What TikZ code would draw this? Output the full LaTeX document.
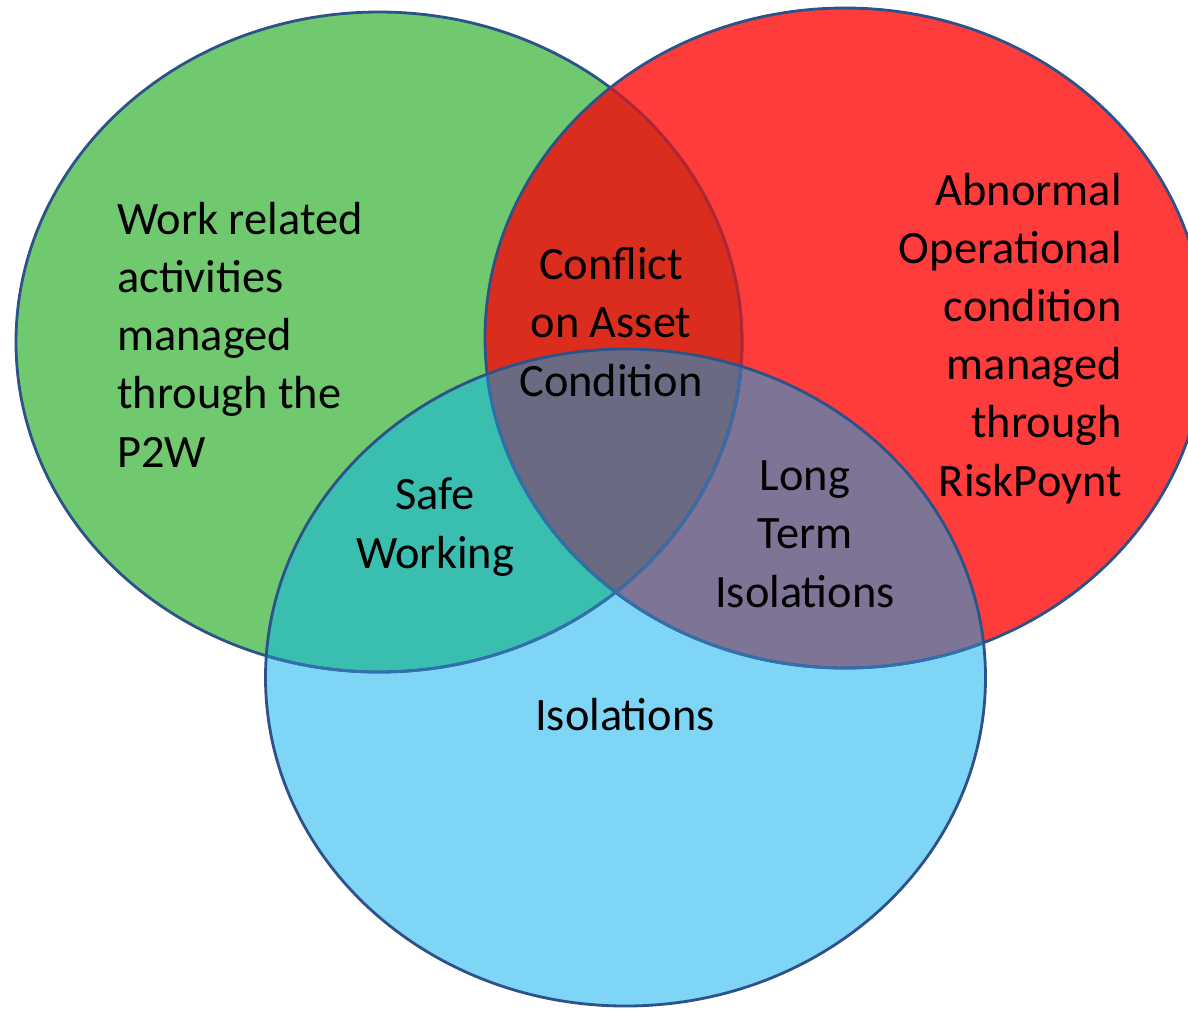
\documentclass[tikz,border=0pt]{standalone}
\usepackage{fontspec}
\setmainfont{Carlito}
\usetikzlibrary{positioning}

\definecolor{workgreen}{RGB}{112,201,110}
\definecolor{abnred}{RGB}{255,60,60}
\definecolor{isoblue}{RGB}{126,213,246}
\definecolor{conflictred}{RGB}{219,45,30}
\definecolor{safeteal}{RGB}{58,190,176}
\definecolor{longpurple}{RGB}{126,116,150}
\definecolor{centregrey}{RGB}{106,106,130}
\definecolor{rimblue}{RGB}{45,82,138}
\definecolor{innerblue}{RGB}{48,112,172}
\definecolor{innerred}{RGB}{185,35,45}

\tikzset{
  rim/.style={draw=rimblue, line width=2pt},
  label/.style={font=\fontsize{33}{41.3}\selectfont, inner sep=0pt, text=black}
}

% the three sets
\def\greenset{(379,342) ellipse [x radius=363, y radius=330]}
\def\redset{(845,338) ellipse [x radius=360, y radius=330]}
\def\blueset{(625.5,677.5) ellipse [x radius=360, y radius=328.5]}

\begin{document}
\begin{tikzpicture}[x=0.025cm, y=-0.025cm]
\useasboundingbox (0,0) rectangle (1188,1009);

% fills
\fill[workgreen] \greenset;
\fill[abnred] \redset;
\fill[isoblue] \blueset;
\begin{scope}
  \clip \greenset;
  \fill[conflictred] \redset;
  \fill[safeteal] \blueset;
\end{scope}
\begin{scope}
  \clip \redset;
  \fill[longpurple] \blueset;
\end{scope}
\begin{scope}
  \clip \greenset;
  \clip \redset;
  \fill[centregrey] \blueset;
\end{scope}

% rims
\path[rim] \redset;
\path[rim] \greenset;
\begin{scope}
  \clip \redset;
  \path[rim, draw=innerred] \greenset;
\end{scope}
\begin{scope}
  \clip \blueset;
  \path[rim, draw=innerblue] \greenset;
  \path[rim, draw=innerblue] \redset;
\end{scope}
\path[rim] \blueset;

% texts (anchored at the baseline of the last line)
\node[label, align=left, anchor=base west] (workTxt) at (117,467)
  {Work related\\activities\\managed\\through the\\P2W};
\node[label, align=right, anchor=base east] (abnTxt) at (1122,496)
  {Abnormal\\Operational\\condition\\managed\\through\\RiskPoynt};
\node[label, align=center, anchor=base] (conflictTxt) at (611,396)
  {Conflict\\on Asset\\Condition};
\node[label, align=center, anchor=base] (safeTxt) at (435,568)
  {Safe\\Working};
\node[label, align=center, anchor=base] (longTxt) at (805,607)
  {Long\\Term\\Isolations};
\node[label, anchor=base] (isoTxt) at (625,730) {Isolations};
\end{tikzpicture}
\end{document}
